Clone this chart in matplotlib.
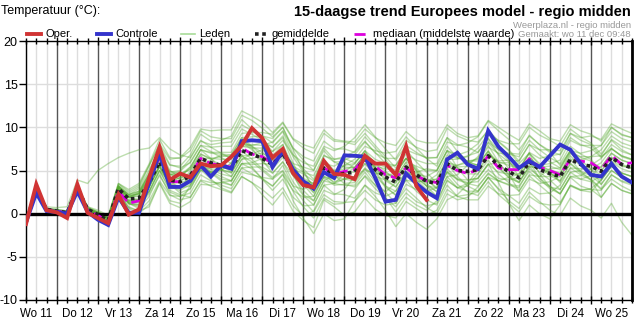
import numpy as np
import matplotlib
matplotlib.use("Agg")
import matplotlib.pyplot as plt
from matplotlib.lines import Line2D

plt.rcParams['font.family'] = ['Liberation Sans', 'DejaVu Sans']

# ---------------- data ----------------
day_labels = ["Wo 11", "Do 12", "Vr 13", "Za 14", "Zo 15", "Ma 16", "Di 17", "Wo 18",
              "Do 19", "Vr 20", "Za 21", "Zo 22", "Ma 23", "Di 24", "Wo 25"]
lead_hours = list(range(6, 361, 6))   # 6-hourly steps from wo 11 00 UTC

oper = [-1.2, 3.4, 0.4, 0.15, -0.5, 3.4, 0.1, -0.5, -1.1, 2.2, -0.1, 0.5,
        4.2, 7.7, 3.9, 4.65, 4.2, 5.8, 5.5, 5.6, 6.6, 7.9, 9.9, 8.75,
        6.5, 7.5, 4.7, 3.3, 3.05, 6.1, 4.6, 4.5, 4.0, 6.7, 5.8, 5.8,
        4.5, 7.8, 3.2, 1.6]

controle = [-1.0, 2.4, 0.3, 0.2, 0.0, 2.6, 0.2, -0.7, -1.3, 1.9, 0.1, 0.1,
            3.6, 7.0, 3.1, 3.1, 3.8, 5.6, 4.3, 5.6, 5.2, 8.4, 8.5, 8.4,
            5.4, 7.25, 5.1, 3.75, 2.9, 4.8, 4.15, 6.75, 6.7, 6.6, 4.15, 1.4,
            1.6, 4.65, 3.5, 2.5, 1.8, 6.3, 7.05, 5.7, 5.2, 9.6, 7.75, 6.6,
            5.3, 6.1, 5.4, 6.7, 8.0, 7.4, 5.8, 4.5, 4.3, 5.8, 4.3, 3.6]

gemiddelde = [-1.0, 2.8, 0.5, 0.3, 0.1, 3.0, 0.5, -0.1, -0.8, 2.9, 1.7, 1.8,
              3.6, 6.0, 3.9, 3.7, 4.4, 6.4, 5.9, 5.6, 5.3, 7.3, 6.9, 6.4,
              5.7, 7.0, 4.9, 3.75, 3.0, 5.3, 4.5, 4.65, 4.8, 6.3, 5.1, 4.25,
              3.65, 5.4, 4.5, 3.75, 3.5, 5.8, 5.0, 4.9, 5.1, 6.7, 5.6, 4.9,
              4.15, 6.0, 5.1, 4.65, 4.3, 6.3, 5.7, 5.5, 4.9, 6.5, 5.7, 5.3]

mediaan = [-1.0, 2.7, 0.5, 0.3, 0.1, 2.9, 0.4, -0.2, -0.9, 2.6, 1.2, 1.5,
           3.6, 6.6, 3.7, 3.7, 4.4, 6.4, 5.8, 5.6, 5.4, 7.6, 6.9, 6.6,
           5.8, 7.1, 4.8, 3.6, 2.9, 5.3, 4.6, 4.9, 5.1, 6.5, 5.5, 4.5,
           4.15, 5.3, 4.4, 3.8, 3.6, 5.6, 5.0, 4.65, 5.1, 6.7, 5.3, 5.1,
           5.1, 6.35, 5.4, 5.0, 4.5, 6.3, 6.1, 5.9, 5.1, 6.75, 5.7, 5.9]

leden = [
    [-0.9, 2.9, 0.6, 0.4, 0.2, 3.1, 0.6, 0.1, -0.5, 3.2, 2.2, 2.6, 4.8, 7.6, 5.6, 5.5,
     6.8, 9.2, 8.4, 8.5, 9.0, 11.4, 10.8, 9.9, 8.9, 10.0, 7.6, 6.2, 5.0, 7.6, 6.3, 6.4,
     5.9, 7.2, 5.8, 4.9, 3.8, 5.6, 4.2, 3.2, 2.6, 4.9, 3.9, 3.5, 3.2, 4.6, 3.8, 3.3,
     3.0, 5.2, 4.3, 4.3, 4.6, 7.0, 6.6, 6.6, 6.7, 8.6, 7.8, 7.4],
    [-1.1, 2.7, 0.4, 0.2, 0.0, 2.8, 0.3, -0.3, -1.1, 2.5, 1.2, 1.0, 2.3, 4.4, 2.5, 2.0,
     2.4, 4.5, 3.8, 3.3, 2.9, 4.8, 4.5, 4.2, 4.0, 5.6, 3.2, 1.5, 0.2, 2.2, 1.4, 1.3,
     1.4, 2.7, 1.6, 1.0, 1.2, 3.4, 2.8, 2.6, 3.0, 5.9, 5.6, 5.9, 6.4, 8.3, 7.4, 7.0,
     6.9, 9.1, 8.0, 7.3, 6.8, 8.8, 8.0, 7.6, 6.5, 7.6, 6.6, 6.2],
    [-1.0, 2.9, 0.6, 0.5, 0.3, 3.3, 0.8, 0.2, -0.4, 3.5, 2.8, 3.5, 5.8, 8.6, 6.5, 6.4,
     7.3, 9.6, 8.9, 8.7, 8.7, 10.9, 9.8, 8.6, 7.2, 8.0, 5.5, 3.9, 2.4, 4.2, 3.3, 3.4,
     3.1, 4.3, 2.9, 1.8, 0.8, 2.4, 1.4, 0.9, 1.2, 3.9, 3.0, 3.2, 4.6, 6.9, 6.0, 5.6,
     5.2, 7.1, 6.4, 6.7, 6.9, 9.3, 8.8, 9.0, 8.6, 10.4, 9.8, 9.3],
    [-1.0, 2.6, 0.3, 0.1, -0.1, 2.8, 0.2, -0.5, -1.4, 2.3, 0.7, 0.3, 1.5, 3.8, 2.1, 2.0,
     2.9, 5.1, 4.8, 5.0, 5.9, 8.0, 8.0, 7.9, 8.3, 9.6, 7.6, 6.6, 6.1, 8.4, 7.5, 7.5,
     7.1, 8.4, 7.0, 6.4, 6.4, 8.5, 7.7, 7.2, 7.4, 9.9, 9.0, 8.5, 8.3, 9.6, 8.3, 7.3,
     5.8, 7.0, 5.8, 4.9, 3.6, 5.3, 4.5, 3.9, 2.8, 4.0, 3.2, 2.6],
    [-0.9, 2.8, 0.5, 0.3, 0.1, 3.0, 0.6, 0.0, -0.6, 3.1, 1.9, 2.0, 4.0, 6.5, 4.5, 4.4,
     5.2, 7.4, 7.1, 7.1, 7.1, 9.3, 9.4, 9.4, 9.2, 10.5, 8.6, 7.6, 7.0, 9.3, 8.4, 8.3,
     8.0, 9.3, 7.9, 6.6, 5.3, 6.4, 5.1, 3.9, 2.9, 4.8, 3.4, 2.5, 2.1, 3.7, 2.2, 1.2,
     0.2, 2.0, 1.2, 1.0, 1.1, 3.3, 2.8, 2.8, 2.7, 4.5, 3.8, 3.5],
    [-1.1, 2.8, 0.5, 0.3, 0.0, 2.9, 0.4, -0.2, -1.0, 2.7, 1.5, 1.4, 3.2, 5.4, 3.4, 3.0,
     3.2, 5.1, 4.0, 3.0, 2.5, 4.3, 3.6, 2.8, 1.8, 3.0, 0.9, -0.3, 0.3, 2.7, 2.2, 2.8,
     4.3, 6.3, 5.5, 5.2, 5.1, 6.9, 6.2, 5.8, 5.8, 8.3, 7.9, 8.2, 8.9, 10.7, 9.6, 8.6,
     7.4, 9.0, 8.0, 7.1, 5.6, 7.3, 6.5, 6.1, 5.0, 6.5, 5.6, 5.2],
    [-1.0, 2.9, 0.8, 0.7, 0.8, 3.9, 3.5, 5.0, 5.8, 6.5, 7.0, 7.4, 7.6, 8.8, 7.5, 6.8,
     6.5, 8.5, 7.7, 7.0, 6.4, 8.4, 7.8, 7.1, 6.2, 7.5, 5.5, 4.8, 4.4, 6.7, 6.3, 6.6,
     7.2, 8.9, 7.6, 6.3, 4.7, 6.4, 5.3, 4.0, 3.0, 5.2, 4.0, 3.6, 3.7, 5.1, 4.1, 3.9,
     4.2, 6.1, 5.6, 5.8, 6.2, 8.5, 7.9, 7.9, 7.9, 10.0, 9.2, 8.8],
    [-1.2, 2.5, 0.2, 0.0, -0.2, 2.7, 0.2, -0.3, -1.0, 2.6, 1.3, 1.1, 2.6, 5.0, 2.7, 2.2,
     1.9, 3.9, 3.6, 3.6, 3.8, 5.8, 5.7, 5.8, 5.7, 7.0, 5.1, 4.1, 3.5, 5.8, 4.8, 4.4,
     4.0, 5.2, 3.7, 2.5, 1.2, 2.9, 1.8, 0.7, 0.0, 2.3, 1.6, 1.9, 3.1, 4.7, 3.8, 3.4,
     3.2, 4.9, 3.8, 3.1, 2.3, 4.2, 3.2, 2.8, 1.9, 3.5, 2.7, 2.3],
    [-0.8, 3.0, 0.6, 0.4, 0.2, 3.1, 0.5, 0.0, -0.4, 3.2, 2.1, 2.3, 4.6, 7.0, 4.9, 4.6,
     5.1, 6.9, 6.3, 5.6, 4.8, 6.7, 6.0, 5.0, 4.0, 4.9, 2.6, 0.8, -0.5, 1.8, 1.1, 1.2,
     2.8, 4.4, 3.3, 2.5, 3.6, 5.4, 4.6, 4.3, 5.0, 7.3, 6.5, 6.0, 5.6, 7.2, 5.9, 4.6,
     2.6, 4.4, 3.3, 2.3, 1.3, 3.2, 2.7, 2.9, 3.9, 5.5, 4.7, 4.3],
    [-1.0, 2.8, 0.5, 0.2, 0.1, 2.9, 0.3, -0.4, -1.1, 2.6, 1.5, 1.7, 3.7, 6.1, 4.5, 4.9,
     6.0, 7.9, 7.7, 7.8, 7.8, 9.8, 9.2, 8.5, 7.7, 9.0, 6.6, 4.8, 3.0, 5.3, 5.0, 5.6,
     6.3, 7.8, 7.3, 7.0, 7.2, 8.9, 7.6, 6.4, 5.5, 7.8, 6.5, 6.1, 6.1, 7.7, 7.0, 6.9,
     6.6, 8.5, 7.4, 6.5, 5.8, 7.8, 6.9, 6.3, 4.9, 6.5, 5.7, 5.3],
    [-1.0, 2.9, 0.6, 0.4, 0.3, 3.2, 0.7, 0.1, -0.6, 3.1, 1.9, 1.6, 3.1, 5.5, 3.5, 3.6,
     4.9, 6.9, 6.4, 6.3, 6.3, 8.3, 7.4, 6.2, 4.7, 6.0, 3.7, 2.1, 1.0, 3.3, 2.3, 2.2,
     1.8, 3.3, 2.4, 2.0, 2.6, 4.4, 3.8, 3.7, 4.5, 6.8, 6.4, 6.6, 7.6, 9.2, 8.5, 8.1,
     8.1, 10.0, 9.1, 8.5, 7.8, 9.8, 8.9, 8.2, 6.9, 8.5, 7.4, 6.8],
    [-1.0, 2.7, 0.4, 0.2, -0.1, 2.8, 0.4, -0.1, -0.8, 2.9, 2.0, 2.5, 4.6, 7.0, 4.6, 4.0,
     3.9, 5.7, 4.7, 3.8, 3.3, 5.3, 4.6, 4.0, 3.2, 4.5, 2.7, 1.9, 2.0, 4.3, 4.0, 4.8,
     5.8, 7.3, 6.3, 5.8, 5.6, 7.4, 6.0, 4.8, 3.5, 5.8, 4.3, 3.2, 2.6, 4.2, 2.9, 2.1,
     1.2, 3.0, 2.3, 2.4, 3.3, 5.3, 5.2, 5.6, 6.4, 8.0, 7.2, 6.8],
    [-1.0, 2.8, 0.5, 0.3, 0.1, 3.0, 0.6, 0.2, -0.3, 3.4, 2.4, 3.1, 5.6, 8.0, 5.7, 5.3,
     5.9, 7.9, 7.2, 6.5, 5.8, 7.8, 7.6, 7.6, 7.2, 8.5, 6.8, 5.9, 5.5, 7.8, 7.3, 7.8,
     8.8, 10.3, 8.9, 7.5, 6.2, 7.9, 7.1, 6.4, 6.5, 8.8, 8.0, 7.7, 7.1, 8.7, 7.4, 6.2,
     4.2, 6.0, 4.8, 3.9, 2.8, 4.8, 4.0, 3.7, 4.4, 6.0, 5.2, 4.8],
    [-1.0, 2.8, 0.4, 0.2, 0.0, 2.9, 0.3, -0.4, -1.3, 2.4, 1.1, 1.0, 2.6, 5.0, 2.9, 3.0,
     4.4, 6.4, 6.4, 6.6, 6.8, 8.8, 7.8, 6.7, 5.7, 7.0, 4.4, 2.7, 1.5, 3.8, 3.5, 4.0,
     4.3, 5.8, 4.3, 3.2, 2.1, 3.9, 2.6, 1.6, 1.0, 3.3, 2.0, 1.6, 1.6, 3.2, 2.3, 2.1,
     2.2, 4.0, 3.5, 3.7, 4.3, 6.3, 6.2, 6.6, 7.4, 9.0, 8.2, 7.8],
    [-1.0, 2.8, 0.5, 0.4, 0.2, 3.1, 0.6, 0.0, -0.7, 3.0, 1.9, 2.1, 4.1, 6.5, 4.8, 5.0,
     6.4, 8.4, 8.0, 8.2, 8.3, 10.3, 9.6, 9.0, 8.2, 9.5, 6.9, 5.2, 4.0, 6.3, 5.0, 4.8,
     4.8, 6.3, 5.3, 4.6, 4.2, 6.0, 5.5, 5.0, 5.0, 7.3, 6.8, 7.2, 8.1, 9.7, 8.4, 7.4,
     6.1, 8.0, 7.4, 7.4, 7.3, 9.3, 8.5, 8.0, 6.6, 7.5, 6.7, 6.3],
    [-1.0, 2.7, 0.4, 0.2, 0.0, 2.9, 0.4, -0.3, -1.0, 2.5, 0.6, 0.0, 1.1, 3.5, 1.2, 0.7,
     1.4, 3.4, 3.3, 3.6, 3.3, 5.3, 5.4, 5.4, 4.7, 6.0, 4.4, 3.9, 3.5, 5.8, 5.5, 6.2,
     6.8, 8.3, 7.1, 5.8, 4.7, 6.4, 5.0, 3.5, 2.5, 4.8, 4.0, 3.9, 4.1, 5.7, 4.8, 4.6,
     4.6, 6.5, 5.4, 4.4, 3.8, 5.8, 4.7, 4.0, 2.9, 4.5, 3.7, 3.3],
    [-1.0, 2.8, 0.5, 0.3, 0.1, 3.0, 0.6, 0.0, -0.6, 3.1, 2.2, 2.9, 5.1, 7.5, 5.0, 4.2,
     4.4, 6.0, 5.1, 4.6, 4.3, 6.3, 6.4, 6.7, 6.2, 7.5, 5.1, 3.5, 2.5, 4.8, 3.5, 3.3,
     3.3, 4.8, 3.3, 1.9, 0.2, 1.9, 1.0, 0.4, 1.5, 3.8, 3.0, 3.5, 5.1, 6.7, 6.1, 6.2,
     6.1, 8.0, 6.8, 6.0, 5.3, 7.3, 6.2, 5.2, 3.4, 5.0, 4.2, 3.8],
    [-1.0, 2.8, 0.5, 0.3, 0.1, 3.0, 0.4, -0.3, -1.0, 2.7, 1.3, 1.4, 3.1, 5.5, 3.4, 3.2,
     3.9, 5.9, 5.6, 5.5, 5.3, 7.3, 6.3, 5.2, 4.2, 5.0, 3.2, 2.8, 3.5, 6.8, 6.0, 6.0,
     5.3, 6.8, 5.8, 5.4, 5.6, 7.4, 6.9, 6.5, 6.5, 8.8, 7.2, 6.0, 5.6, 7.2, 5.4, 4.2,
     3.6, 5.5, 4.1, 3.2, 2.3, 4.3, 4.0, 4.4, 5.4, 7.0, 6.2, 5.8],
    [-1.0, 2.8, 0.5, 0.4, 0.2, 3.1, 0.7, 0.2, -0.5, 3.2, 2.0, 2.3, 4.1, 6.5, 4.6, 4.5,
     5.4, 7.4, 7.0, 6.9, 6.8, 8.8, 8.9, 9.0, 8.7, 10.0, 7.4, 5.0, 3.0, 5.3, 4.3, 4.0,
     3.8, 5.3, 4.3, 3.9, 3.6, 5.4, 4.0, 2.8, 2.0, 4.3, 4.5, 5.6, 6.6, 8.2, 6.9, 6.0,
     5.1, 7.0, 5.6, 4.6, 4.3, 6.3, 4.9, 3.9, 1.9, 3.5, 2.7, 2.3],
    [-1.0, 2.7, 0.4, 0.2, 0.0, 2.9, 0.4, -0.2, -0.9, 2.8, 1.4, 1.3, 3.1, 5.5, 3.2, 2.7,
     3.4, 5.4, 5.2, 5.1, 4.8, 6.8, 5.4, 4.0, 2.7, 4.0, 1.9, 0.9, 1.0, 3.3, 3.5, 4.6,
     5.3, 6.8, 5.4, 4.0, 3.1, 4.9, 4.2, 3.7, 4.0, 6.3, 5.3, 4.6, 4.6, 6.2, 4.6, 3.6,
     2.6, 4.5, 4.3, 5.2, 5.3, 7.3, 7.0, 7.3, 7.9, 9.5, 8.7, 8.3],
    [-1.1, 2.7, 0.4, 0.1, -0.1, 2.8, 0.2, -0.5, -1.2, 2.4, 1.2, 0.6, 2.0, 4.6, 2.2, 1.6,
     1.9, 3.8, 3.2, 2.8, 2.4, 4.3, 3.6, 2.2, 1.0, 2.5, 0.3, -0.8, -1.6, 1.6, 0.8, -0.2,
     0.2, 1.8, 0.5, -0.2, -0.5, 1.4, 0.6, -0.2, 0.4, 2.8, 2.0, 2.2, 2.5, 4.2, 2.8, 1.5,
     0.6, 2.5, 1.4, 0.4, -0.2, 1.8, 0.9, 0.4, -0.5, 1.2, -1.0, -2.5],
    [-0.9, 2.9, 0.6, 0.5, 0.3, 3.2, 0.8, 0.4, -0.2, 3.5, 2.6, 3.3, 5.6, 8.1, 6.3, 6.5,
     7.7, 9.8, 9.6, 9.7, 9.7, 11.9, 11.3, 10.6, 9.4, 10.6, 8.7, 8.0, 7.6, 9.7, 8.6, 8.4,
     8.3, 9.8, 8.8, 8.2, 7.9, 9.5, 8.5, 8.2, 8.2, 10.3, 9.3, 8.8, 9.0, 10.8, 10.0, 9.2,
     8.5, 10.4, 9.6, 8.7, 8.4, 10.3, 9.6, 9.2, 8.4, 10.0, 9.1, 8.8],
    [-1.0, 2.8, 0.5, 0.3, 0.0, 2.8, 0.2, -0.5, -1.5, 2.2, 0.8, 0.3, 0.8, 3.6, 1.5, 1.2,
     3.3, 5.4, 4.9, 4.3, 3.8, 5.8, 5.2, 4.1, 3.2, 4.6, 1.5, -0.5, -2.3, 0.0, -0.8, -0.6,
     1.4, 3.3, 2.0, 0.4, -1.5, 0.0, -1.0, -1.8, -0.6, 1.6, 2.2, 3.4, 4.1, 5.8, 3.6, 1.2,
     -0.8, 1.0, 0.0, -0.6, 1.0, 3.3, 2.7, 2.5, 3.9, 5.5, 4.7, 4.3],
    [-1.0, 2.8, 0.5, 0.3, 0.1, 3.0, 0.6, 0.0, -0.6, 3.1, 1.2, 0.8, 2.6, 5.0, 3.6, 4.2,
     5.4, 7.4, 6.4, 5.1, 4.3, 6.3, 6.9, 7.4, 6.7, 8.0, 4.6, 2.2, 1.5, 3.8, 4.5, 5.6,
     5.8, 7.3, 5.0, 3.2, 2.6, 4.4, 4.8, 5.2, 5.0, 7.3, 5.3, 3.9, 4.1, 5.7, 5.9, 5.9,
     5.1, 7.0, 4.6, 3.1, 2.8, 4.8, 5.0, 5.8, 5.4, 7.0, 6.2, 5.8],
    [-1.0, 2.8, 0.4, 0.3, 0.1, 3.0, 0.5, -0.1, -0.9, 2.8, 1.9, 2.4, 4.4, 6.8, 3.8, 2.9,
     3.6, 5.6, 6.2, 6.8, 6.5, 8.5, 7.6, 6.0, 5.2, 6.5, 5.2, 4.6, 3.8, 6.1, 4.4, 3.5,
     3.6, 5.1, 4.6, 4.8, 4.2, 5.9, 4.2, 3.2, 3.0, 5.3, 5.6, 6.1, 6.3, 7.9, 6.0, 4.4,
     3.7, 5.5, 5.4, 5.5, 5.1, 7.1, 5.7, 4.5, 3.9, 5.5, 4.7, 4.3],
    [-1.0, 2.9, 0.5, 0.3, 0.1, 3.0, 0.5, -0.1, -0.8, 3.0, 1.6, 1.6, 3.4, 5.6, 4.0, 4.1,
     4.6, 6.7, 5.7, 5.1, 4.7, 6.7, 6.8, 7.0, 6.3, 7.6, 5.1, 3.6, 3.0, 5.3, 4.8, 5.2,
     5.4, 6.9, 5.3, 3.8, 3.1, 4.8, 4.4, 3.9, 3.5, 5.8, 5.4, 5.5, 5.7, 7.3, 5.3, 4.2,
     3.6, 5.4, 5.3, 5.1, 4.7, 6.7, 5.5, 5.1, 4.5, 6.1, 5.5, 5.3],
    [-1.0, 2.8, 0.5, 0.3, 0.1, 2.9, 0.4, -0.2, -1.0, 2.8, 1.9, 2.3, 4.2, 6.3, 3.4, 2.4,
     2.9, 5.0, 4.8, 5.1, 5.8, 7.8, 7.9, 8.2, 7.7, 8.8, 5.9, 3.4, 2.0, 4.3, 3.7, 4.0,
     4.3, 5.8, 4.8, 4.4, 4.7, 6.4, 4.9, 3.2, 2.0, 4.3, 3.0, 2.6, 2.6, 4.2, 3.8, 4.2,
     4.6, 6.5, 5.4, 4.7, 3.8, 5.8, 4.9, 4.4, 3.4, 5.0, 4.2, 3.8],
    [-1.0, 2.8, 0.5, 0.3, 0.1, 3.0, 0.6, 0.1, -0.5, 3.2, 2.2, 2.6, 4.6, 7.0, 4.3, 3.6,
     3.9, 5.9, 4.8, 4.0, 3.8, 5.8, 5.9, 6.4, 5.7, 7.0, 5.8, 5.4, 5.0, 7.3, 6.0, 5.4,
     5.3, 6.8, 4.8, 3.0, 2.2, 3.9, 3.6, 3.9, 4.0, 6.3, 6.3, 6.7, 7.1, 8.7, 6.8, 5.2,
     4.2, 6.0, 4.1, 2.9, 2.3, 4.3, 4.4, 5.2, 5.9, 7.5, 6.7, 6.3],
]

# ---------------- figure ----------------
W, H = 639, 327
fig = plt.figure(figsize=(W / 100, H / 100), dpi=100)
L, R, T, B = 26, 632, 41, 300
ax = fig.add_axes([L / W, 1 - B / H, (R - L) / W, (B - T) / H])

x_days = np.array(lead_hours) / 24.0
ax.set_xlim(0.25, 15.0)
ax.set_ylim(-10, 20)

# grid
for xv in np.arange(0.25, 15.01, 0.25):
    if abs(xv - round(xv)) < 1e-6:
        ax.axvline(xv, color='#555555', lw=1.0, zorder=1)
    else:
        ax.axvline(xv, color='#dddddd', lw=1.0, zorder=0)
for yv in [-5, 5, 10, 15]:
    ax.axhline(yv, color='#dddddd', lw=1.0, zorder=0)

for m in leden:
    ax.plot(x_days, m, color=(0.32, 0.66, 0.17), alpha=0.38, lw=1.0, zorder=2)

ax.axhline(0, color='black', lw=2.4, zorder=3)

ax.plot(x_days, mediaan, color='#dd00dd', lw=2.0, ls=(0, (4, 2)), zorder=4)
ax.plot(x_days, gemiddelde, color='#222222', lw=2.6, ls=(0, (1, 1)), zorder=5)
ax.plot(x_days, controle, color='#3434cc', lw=2.8, zorder=6, solid_joinstyle='miter')
ax.plot(x_days[:len(oper)], oper, color='#d03434', lw=2.8, zorder=7, solid_joinstyle='miter')

# axes styling
for s in ['left', 'bottom', 'top', 'right']:
    ax.spines[s].set_color('black')
    ax.spines[s].set_linewidth(1.0)
ax.spines['right'].set_linewidth(2.0)
ax.set_yticks([-10, -5, 0, 5, 10, 15, 20])
ax.set_yticklabels(['-10', '-5', '0', '5', '10', '15', '20'], fontsize=9)
ax.tick_params(axis='y', length=5, width=1, pad=1)
ax.set_xticks(np.arange(1, 15))
ax.set_xticks(np.arange(0.25, 15.01, 0.25), minor=True)
ax.tick_params(axis='x', which='major', length=6, width=1, labelbottom=False)
ax.tick_params(axis='x', which='minor', length=4, width=1, top=True, direction='inout')
ax.tick_params(axis='x', which='major', top=True, direction='inout')
for i, lab in enumerate(day_labels):
    ax.text(i + 0.5, -10.9, lab, ha='center', va='top', fontsize=8.3,
            transform=ax.transData, clip_on=False)

# texts
fig.text(1 / W, 1 - 11 / H, 'Temperatuur (°C):', fontsize=9, va='center', ha='left')
fig.text(631 / W, 1 - 12 / H, '15-daagse trend Europees model - regio midden',
         fontsize=10.5, fontweight='bold', va='center', ha='right')
fig.text(631 / W, 1 - 25 / H, 'Weerplaza.nl - regio midden', fontsize=6.8,
         color='#999999', va='center', ha='right')
fig.text(631 / W, 1 - 34.5 / H, 'Gemaakt: wo 11 dec 09:48', fontsize=6.8,
         color='#999999', va='center', ha='right')

# legend
ly = 1 - 34 / H
leg = [
    (27, 41, dict(color='#d03434', lw=2.8), 'Oper.'),
    (97, 111, dict(color='#3434cc', lw=2.8), 'Controle'),
    (181, 195, dict(color='#a8dc98', lw=1.2), 'Leden'),
    (255, 268, dict(color='#222222', lw=2.6, ls=(0, (1, 1))), 'gemiddelde'),
    (354, 369, dict(color='#dd00dd', lw=2.0, ls=(0, (4, 2))), 'mediaan (middelste waarde)'),
]
for x0, x1, kw, txt in leg:
    fig.add_artist(Line2D([x0 / W, x1 / W], [ly, ly], transform=fig.transFigure, **kw))
    fig.text((x1 + 4) / W, ly, txt, fontsize=8.0, va='center', ha='left')

fig.savefig('out.png', dpi=100)
